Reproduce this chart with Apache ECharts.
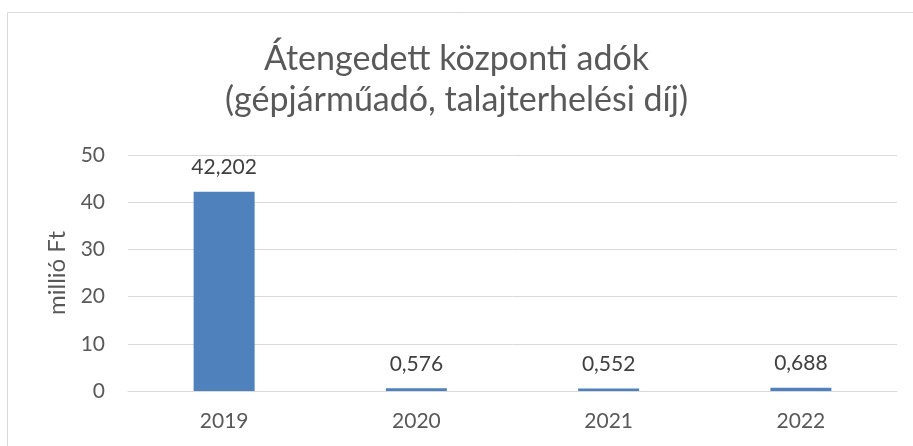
<!DOCTYPE html>
<html>
<head>
<meta charset="utf-8">
<script src="https://cdn.jsdelivr.net/npm/echarts@6/dist/echarts.min.js"></script>
<style>
  html, body { margin: 0; padding: 0; background: #fff; }
  #main { width: 913px; height: 446px; }
</style>
</head>
<body>
<div id="main"></div>
<script>
  var years = ['2019', '2020', '2021', '2022'];
  var values = [42.202, 0.576, 0.552, 0.688];
  var yTicks = [0, 10, 20, 30, 40, 50];

  var chart = echarts.init(document.getElementById('main'));
  var font = 'Lato, "Liberation Sans", sans-serif';

  var option = {
    backgroundColor: '#fff',
    textStyle: { fontFamily: font },
    graphic: [{
      type: 'rect',
      left: 5, top: 10,
      shape: { width: 930, height: 460 },
      style: { fill: 'none', stroke: '#d9d9d9', lineWidth: 1 },
      silent: true
    }],
    title: {
      text: 'Átengedett központi adók\n(gépjárműadó, talajterhelési díj)',
      left: 'center',
      top: 34,
      textStyle: {
        fontFamily: font,
        fontSize: 34,
        fontWeight: 'normal',
        color: '#595959',
        lineHeight: 41
      }
    },
    grid: { left: 128, right: 16, top: 155, bottom: 55, containLabel: false },
    xAxis: {
      type: 'category',
      data: years,
      axisLine: { lineStyle: { color: '#d9d9d9', width: 1 } },
      axisTick: { show: false },
      axisLabel: { color: '#595959', fontSize: 21, margin: 20, fontFamily: font }
    },
    yAxis: {
      type: 'value',
      min: yTicks[0],
      max: yTicks[yTicks.length - 1],
      interval: 10,
      name: 'millió Ft',
      nameLocation: 'middle',
      nameGap: 58,
      nameTextStyle: { color: '#595959', fontSize: 24, fontFamily: font },
      axisLine: { show: false },
      axisTick: { show: false },
      axisLabel: { color: '#595959', fontSize: 21, margin: 23, fontFamily: font },
      splitLine: { lineStyle: { color: '#d9d9d9', width: 1 } }
    },
    series: [{
      type: 'bar',
      data: values,
      barWidth: 61,
      itemStyle: { color: '#4f81bd' },
      label: {
        show: true,
        position: 'top',
        distance: 14,
        color: '#404040',
        fontSize: 21,
        fontFamily: font,
        formatter: function (p) { return p.value.toFixed(3).replace('.', ','); }
      }
    }]
  };
  chart.setOption(option);
</script>
</body>
</html>
